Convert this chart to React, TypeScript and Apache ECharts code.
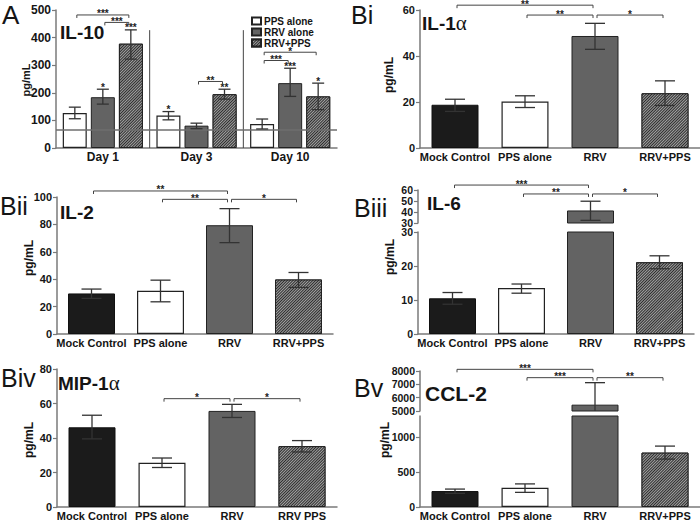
import React, { useEffect, useRef } from 'react';
import * as echarts from 'echarts';

const FONT = 'Liberation Sans, Arial, sans-serif';
const AXIS = '#7a7a7a';
const TXT = '#151515';

// ---------- Panel A : IL-10 ----------
const dayCategories = ['Day 1', 'Day 3', 'Day 10'];
const groupNames = ['PPS alone', 'RRV alone', 'RRV+PPS'];
const il10PPS = [127, 118, 87];
const il10RRV = [184, 81, 235];
const il10RRVPPS = [378, 195, 187];
const il10PPSErr = [[106, 148], [102, 132], [69, 105]];
const il10RRVErr = [[159, 213], [70, 90], [187, 289]];
const il10RRVPPSErr = [[322, 428], [177, 213], [139, 235]];
// [day, group, label]
const il10Stars: [number, number, string][] = [[0, 1, '*'], [0, 2, '***'], [1, 0, '*'], [1, 2, '**'], [2, 1, '***'], [2, 2, '*']];
// [day, fromGroup, toGroup, y, label]
const il10Brackets: [number, number, number, number, string][] = [
  [0, 0, 2, 482, '***'], [0, 1, 2, 455, '***'], [1, 1, 2, 241, '**'], [2, 0, 2, 347, '*'], [2, 0, 1, 317, '***'],
];
const il10Baseline = 66;
const il10DividerTop = 427;
const il10Ticks = [0, 100, 200, 300, 400, 500];

// ---------- Panels B ----------
const groupCategories = ['Mock Control', 'PPS alone', 'RRV', 'RRV+PPS'];
const mipCategories = ['Mock Control', 'PPS alone', 'RRV', 'RRV PPS'];

const il1aValues = [18.8, 20.2, 48.7, 23.8];
const il1aErr = [[15.9, 21.2], [17.6, 22.7], [42.9, 54.2], [18.5, 29.2]];
const il1aBrackets: [number, number, number, string][] = [[0, 2, 62.1, '**'], [1, 2, 57.8, '**'], [2, 3, 57.8, '*']];
const il1aTicks = [0, 20, 40, 60];

const il2Values = [29.6, 31.6, 79.4, 39.8];
const il2Err = [[26, 32.8], [23.5, 39.3], [66.7, 91.5], [34, 44.9]];
const il2Brackets: [number, number, number, string][] = [[0, 2, 104.4, '**'], [1, 2, 98.3, '**'], [2, 3, 98.3, '*']];
const il2Ticks = [0, 20, 40, 60, 80, 100];

const il6Values = [10.5, 13.5, 41.4, 21.1];
const il6Err = [[8.75, 12.2], [12, 14.7], [32.4, 49.8], [19.2, 23]];
const il6Brackets: [number, number, number, string][] = [[0, 2, 64.5, '***'], [1, 2, 56.4, '**'], [2, 3, 56.4, '*']];
const il6LowTicks = [0, 10, 20, 30];
const il6HighTicks = [30, 40, 50, 60];

const mipValues = [46.2, 25.6, 55.7, 35.3];
const mipErr = [[39.5, 53.2], [22.9, 28.4], [51.9, 59.5], [31.9, 38.5]];
const mipBrackets: [number, number, number, string][] = [[1, 2, 62.8, '*'], [2, 3, 62.8, '*']];
const mipTicks = [0, 20, 40, 60, 80];

const ccl2Values = [228, 274, 5475, 777];
const ccl2Err = [[195, 256], [209, 330], [3775, 7125], [684, 870]];
const ccl2Brackets: [number, number, number, string][] = [[0, 2, 8125, '***'], [1, 2, 7500, '***'], [2, 3, 7500, '**']];
const ccl2LowTicks = [0, 500, 1000];
const ccl2LowMax = 1300;
const ccl2HighTicks = [5000, 6000, 7000, 8000];

// ---------- styles ----------
const hatch = {
  color: '#2c2c2c',
  borderColor: '#222',
  borderWidth: 1,
  decal: {
    symbol: 'rect',
    symbolSize: 1,
    dashArrayX: [1, 0],
    dashArrayY: [1, 1],
    rotation: -Math.PI / 4,
    color: '#a2a2a2',
  },
};
const bStyles: any[] = [
  { color: '#1b1b1b', borderColor: '#111', borderWidth: 1 },
  { color: '#ffffff', borderColor: '#222', borderWidth: 1.2 },
  { color: '#636363', borderColor: '#222', borderWidth: 1 },
  hatch,
];

const A_OFFSETS = [-28, 0, 28];

function catAxis(gridIndex: number, data: string[], fontSize = 11) {
  return {
    type: 'category', gridIndex, data,
    axisLine: { lineStyle: { color: AXIS, width: 1.5 } },
    axisTick: { alignWithLabel: true, length: 3, lineStyle: { color: AXIS } },
    axisLabel: { color: TXT, fontWeight: 'bold', fontSize, fontFamily: FONT, margin: 3, interval: 0 },
  };
}
function hiddenCat(gridIndex: number, data: string[]) {
  return { type: 'category', gridIndex, data, show: false };
}
function valAxis(gridIndex: number, ticks: number[], fontSize = 11, max?: number, lineHeight?: number) {
  const interval = ticks[1] - ticks[0];
  return {
    type: 'value', gridIndex,
    min: ticks[0], max: max ?? ticks[ticks.length - 1], interval,
    axisLine: { show: true, lineStyle: { color: AXIS, width: 1.5 } },
    axisTick: { show: true, length: 4, lineStyle: { color: AXIS, width: 1.2 }, customValues: ticks },
    axisLabel: {
      color: TXT, fontWeight: 'bold', fontSize, fontFamily: FONT, margin: 5, customValues: ticks,
      lineHeight: lineHeight ?? Math.round(fontSize * 1.2),
      formatter: (v: number) => String(v),
    },
    splitLine: { show: false },
  };
}

function errorSeries(xAxisIndex: number, yAxisIndex: number, data: number[][], offsets: number[], capW: number) {
  return {
    type: 'custom', xAxisIndex, yAxisIndex, silent: true, z: 5,
    data,
    renderItem: (params: any, api: any) => {
      const cat = api.value(0), lo = api.value(1), hi = api.value(2), s = api.value(3);
      const cs = params.coordSys;
      const p = api.coord([cat, hi]);
      const x = p[0] + offsets[s];
      const yHi = p[1];
      let yLo = api.coord([cat, lo])[1];
      const bottom = cs.y + cs.height;
      const clamped = yLo > bottom;
      if (clamped) yLo = bottom;
      const st = { stroke: '#333', lineWidth: 1.3 };
      const children: any[] = [
        { type: 'line', shape: { x1: x, y1: yHi, x2: x, y2: yLo }, style: st },
        { type: 'line', shape: { x1: x - capW, y1: yHi, x2: x + capW, y2: yHi }, style: st },
      ];
      if (!clamped) children.push({ type: 'line', shape: { x1: x - capW, y1: yLo, x2: x + capW, y2: yLo }, style: st });
      return { type: 'group', children };
    },
  };
}

const starStyle = (text: string) => ({
  text, fontSize: 10, lineHeight: 8, fontWeight: 'bold', fontFamily: FONT, fill: '#222', align: 'center', verticalAlign: 'bottom',
});

function bracketShape(x1: number, x2: number, y: number, label: string) {
  const st = { stroke: '#444', lineWidth: 1 };
  return {
    type: 'group',
    children: [
      { type: 'line', shape: { x1, y1: y, x2, y2: y }, style: st },
      { type: 'line', shape: { x1, y1: y, x2: x1, y2: y + 3 }, style: st },
      { type: 'line', shape: { x1: x2, y1: y, x2, y2: y + 3 }, style: st },
      { type: 'text', x: (x1 + x2) / 2, y: y + 3, style: starStyle(label) },
    ],
  };
}

function bracketSeries(xAxisIndex: number, yAxisIndex: number, items: [number, number, number, string][]) {
  return {
    type: 'custom', xAxisIndex, yAxisIndex, silent: true, z: 6,
    data: items.map((b) => [b[0], b[2], b[1]]),
    renderItem: (params: any, api: any) => {
      const b = items[params.dataIndex];
      const p1 = api.coord([b[0], b[2]]);
      const p2 = api.coord([b[1], b[2]]);
      return bracketShape(p1[0] + 2, p2[0] - 2, p1[1], b[3]);
    },
  };
}

function barData(values: number[], keep?: (v: number) => boolean) {
  return values.map((v, i) => (keep && !keep(v) ? '-' : { value: v, itemStyle: bStyles[i] }));
}

function txt(x: number, y: number, text: string, size: number, weight = 'bold', rotation = 0, align = 'left') {
  return {
    type: 'text', x, y, rotation, silent: true,
    style: { text, fontSize: size, fontWeight: weight, fontFamily: FONT, fill: TXT, align, verticalAlign: 'middle' },
  };
}
function richTitle(x: number, y: number, main: string, greek: string) {
  return {
    type: 'text', x, y, silent: true,
    style: {
      text: `{m|${main}}{g|${greek}}`,
      verticalAlign: 'middle', align: 'left',
      rich: {
        m: { fontSize: 19, fontWeight: 'bold', fontFamily: FONT, fill: TXT },
        g: { fontSize: 21, fontWeight: 'normal', fontFamily: 'Liberation Serif, DejaVu Serif, serif', fill: TXT },
      },
    },
  };
}

export default function App() {
  const ref = useRef<HTMLDivElement>(null);
  useEffect(() => {
    if (!ref.current) return;
    const chart = echarts.init(ref.current, null, { renderer: 'svg' });

    const grids = [
      { left: 56, top: 10, width: 281, height: 138 }, // 0 A
      { left: 420, top: 10, width: 280, height: 138 }, // 1 Bi
      { left: 57, top: 197, width: 276, height: 137 }, // 2 Bii
      { left: 418, top: 232, width: 276, height: 102 }, // 3 Biii low
      { left: 418, top: 190, width: 276, height: 33 }, // 4 Biii high
      { left: 57, top: 369, width: 280, height: 140 }, // 5 Biv
      { left: 420, top: 416, width: 280, height: 93 }, // 6 Bv low
      { left: 420, top: 371, width: 280, height: 40 }, // 7 Bv high
    ];

    const xAxis = [
      catAxis(0, dayCategories, 12),
      catAxis(1, groupCategories),
      catAxis(2, groupCategories),
      catAxis(3, groupCategories),
      hiddenCat(4, groupCategories),
      catAxis(5, mipCategories),
      catAxis(6, groupCategories),
      hiddenCat(7, groupCategories),
    ];
    const yAxis = [
      valAxis(0, il10Ticks, 12),
      valAxis(1, il1aTicks),
      valAxis(2, il2Ticks),
      valAxis(3, il6LowTicks, 10.5, undefined, 8),
      valAxis(4, il6HighTicks, 10.5, undefined, 8),
      valAxis(5, mipTicks),
      valAxis(6, ccl2LowTicks, 10.5, ccl2LowMax),
      valAxis(7, ccl2HighTicks, 10.5, undefined, 10),
    ];

    const aVals = [il10PPS, il10RRV, il10RRVPPS];
    const aErrs = [il10PPSErr, il10RRVErr, il10RRVPPSErr];
    const aStyles = [bStyles[1], bStyles[2], hatch];

    const series: any[] = [];
    aVals.forEach((vals, s) => {
      const ser: any = {
        type: 'bar', name: groupNames[s], xAxisIndex: 0, yAxisIndex: 0,
        data: vals, barWidth: 24, barGap: '17%', itemStyle: aStyles[s],
      };
      if (s === 0) {
        ser.markLine = {
          silent: true, symbol: ['none', 'none'], data: [{ yAxis: il10Baseline }],
          lineStyle: { color: '#6e6e6e', width: 1.5, type: 'solid' }, label: { show: false },
        };
      }
      series.push(ser);
    });
    const aErrData: number[][] = [];
    aErrs.forEach((errs, s) => errs.forEach((e, d) => aErrData.push([d, e[0], e[1], s])));
    series.push(errorSeries(0, 0, aErrData, A_OFFSETS, 6));
    // stars above bars
    series.push({
      type: 'custom', xAxisIndex: 0, yAxisIndex: 0, silent: true, z: 6,
      data: il10Stars.map((st) => [st[0], aErrs[st[1]][st[0]][1], st[1]]),
      renderItem: (params: any, api: any) => {
        const st = il10Stars[params.dataIndex];
        const p = api.coord([api.value(0), api.value(1)]);
        return { type: 'text', x: p[0] + A_OFFSETS[st[1]], y: p[1] + 2, style: starStyle(st[2]) };
      },
    });
    // A brackets
    series.push({
      type: 'custom', xAxisIndex: 0, yAxisIndex: 0, silent: true, z: 6,
      data: il10Brackets.map((b) => [b[0], b[3], b[1], b[2]]),
      renderItem: (params: any, api: any) => {
        const b = il10Brackets[params.dataIndex];
        const p = api.coord([b[0], b[3]]);
        return bracketShape(p[0] + A_OFFSETS[b[1]] + 2, p[0] + A_OFFSETS[b[2]] - 2, p[1], b[4]);
      },
    });
    // A dividers
    series.push({
      type: 'custom', xAxisIndex: 0, yAxisIndex: 0, silent: true, z: 4,
      data: [[0, il10DividerTop], [1, il10DividerTop]],
      renderItem: (params: any, api: any) => {
        const top = api.coord([api.value(0), api.value(1)]);
        const bot = api.coord([api.value(0), 0]);
        const band = api.size([1, 0])[0];
        const x = top[0] + band / 2;
        return { type: 'line', shape: { x1: x, y1: top[1], x2: x, y2: bot[1] }, style: { stroke: '#444', lineWidth: 1 } };
      },
    });

    const errData = (errs: number[][], vals: number[], keep?: (v: number) => boolean) =>
      errs.map((e, i) => [i, e[0], e[1], 0]).filter((_, i) => !keep || keep(vals[i]));

    const simple: [number, number[], number[][], [number, number, number, string][], string][] = [
      [1, il1aValues, il1aErr, il1aBrackets, 'IL-1α'],
      [2, il2Values, il2Err, il2Brackets, 'IL-2'],
      [5, mipValues, mipErr, mipBrackets, 'MIP-1α'],
    ];
    simple.forEach(([g, vals, errs, br, nm]) => {
      series.push({ type: 'bar', name: nm, xAxisIndex: g, yAxisIndex: g, barWidth: 47, data: barData(vals) });
      series.push(errorSeries(g, g, errData(errs, vals), [0], 10));
      series.push(bracketSeries(g, g, br));
    });

    const broken: [number, number, number[], number[][], [number, number, number, string][], number, string][] = [
      [3, 4, il6Values, il6Err, il6Brackets, il6LowTicks[il6LowTicks.length - 1], 'IL-6'],
      [6, 7, ccl2Values, ccl2Err, ccl2Brackets, ccl2LowMax, 'CCL-2'],
    ];
    broken.forEach(([lo, hi, vals, errs, br, split, nm]) => {
      const isHigh = (v: number) => v > split;
      const isLow = (v: number) => v <= split;
      series.push({ type: 'bar', name: nm, xAxisIndex: lo, yAxisIndex: lo, barWidth: 47, data: barData(vals) });
      series.push({ type: 'bar', name: nm + ' high', xAxisIndex: hi, yAxisIndex: hi, barWidth: 47, data: barData(vals, isHigh) });
      series.push(errorSeries(lo, lo, errData(errs, vals, isLow), [0], 10));
      series.push(errorSeries(hi, hi, errData(errs, vals, isHigh), [0], 10));
      series.push(bracketSeries(hi, hi, br));
    });

    const graphic: any[] = [
      txt(2, 15, 'A', 26, 'normal'),
      txt(351, 15, 'Bi', 25, 'normal'),
      txt(0, 206, 'Bii', 25, 'normal'),
      txt(354, 208, 'Biii', 25, 'normal'),
      txt(1, 378, 'Biv', 25, 'normal'),
      txt(354, 388, 'Bv', 25, 'normal'),
      txt(60, 32, 'IL-10', 19),
      richTitle(422, 23, 'IL-1', 'α'),
      txt(60, 212, 'IL-2', 19),
      txt(427, 203, 'IL-6', 19),
      richTitle(58, 383, 'MIP-1', 'α'),
      txt(425, 393, 'CCL-2', 21),
      txt(26, 80, 'pg/mL', 11, 'bold', Math.PI / 2, 'center'),
      txt(389, 75, 'pg/mL', 12, 'bold', Math.PI / 2, 'center'),
      txt(29, 258, 'pg/mL', 12, 'bold', Math.PI / 2, 'center'),
      txt(390, 257, 'pg/mL', 12, 'bold', Math.PI / 2, 'center'),
      txt(29, 440, 'pg/mL', 12, 'bold', Math.PI / 2, 'center'),
      txt(385, 440, 'pg/mL', 12, 'bold', Math.PI / 2, 'center'),
    ];

    chart.setOption({
      animation: false,
      backgroundColor: '#ffffff',
      textStyle: { fontFamily: FONT },
      grid: grids,
      xAxis,
      yAxis,
      legend: {
        data: groupNames,
        orient: 'vertical', left: 251, top: 16, padding: 0,
        itemWidth: 9, itemHeight: 7, itemGap: 1, icon: 'rect',
        textStyle: { fontSize: 10, fontWeight: 'bold', fontFamily: FONT, color: TXT, lineHeight: 7, padding: [0, 0, 0, -2] },
      },
      graphic,
      series,
    });
    return () => chart.dispose();
  }, []);
  return <div ref={ref} style={{ position: 'fixed', left: 0, top: 0, width: 700, height: 521 }} />;
}
